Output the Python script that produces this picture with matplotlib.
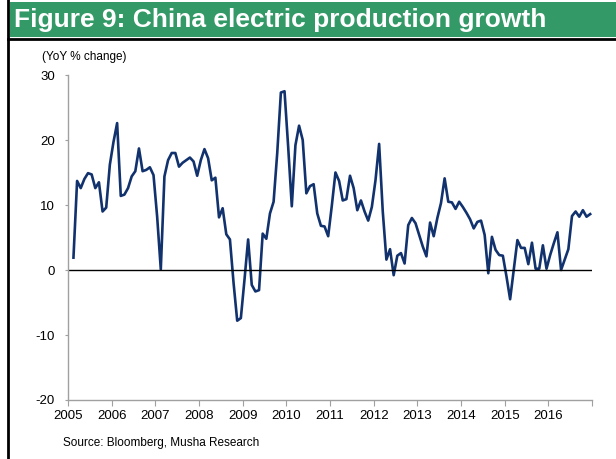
import numpy as np
import matplotlib.pyplot as plt
from matplotlib.patches import Rectangle
from matplotlib.lines import Line2D

plt.rcParams['font.family'] = ['Liberation Sans', 'DejaVu Sans']
plt.rcParams['axes.unicode_minus'] = False

# monthly YoY % change, Feb 2005 .. Dec 2016
y2005 = [1.9, 13.7, 12.6, 14.0, 14.9, 14.7, 12.6, 13.5, 9.0, 9.6, 16.2]
y2006 = [19.7, 22.6, 11.4, 11.6, 12.6, 14.4, 15.2, 18.7, 15.2, 15.4, 15.8, 14.6]
y2007 = [8.2, 0.1, 14.4, 16.9, 18.0, 18.0, 15.9, 16.5, 16.9, 17.3, 16.7, 14.5]
y2008 = [16.9, 18.6, 17.2, 13.8, 14.2, 8.1, 9.5, 5.5, 4.7, -2.0, -7.8, -7.4]
y2009 = [-1.5, 4.7, -2.3, -3.3, -3.1, 5.6, 4.8, 8.7, 10.5, 18.0, 27.3, 27.5]
y2010 = [19.0, 9.8, 19.2, 22.2, 20.0, 11.8, 12.9, 13.2, 8.7, 6.8, 6.7, 5.2]
y2011 = [9.9, 15.0, 13.7, 10.7, 10.9, 14.5, 12.6, 9.2, 10.7, 9.0, 7.6, 9.7]
y2012 = [13.8, 19.4, 9.0, 1.6, 3.2, -0.8, 2.2, 2.6, 1.0, 6.9, 8.0, 7.2]
y2013 = [5.4, 3.6, 2.1, 7.3, 5.2, 8.0, 10.3, 14.1, 10.5, 10.4, 9.4, 10.5]
y2014 = [9.7, 8.8, 7.8, 6.4, 7.4, 7.6, 5.4, -0.5, 5.1, 3.1, 2.3, 2.2]
y2015 = [-1.0, -4.5, 0.0, 4.6, 3.4, 3.4, 0.9, 4.2, 0.2, 0.2, 3.8, 0.2]
y2016 = [2.3, 4.1, 5.8, 0.0, 1.6, 3.2, 8.3, 9.0, 8.2, 9.2, 8.2, 8.6]

years = list(range(2005, 2017))
yticks = [30, 20, 10, 0, -10, -20]

values = np.array(y2005 + y2006 + y2007 + y2008 + y2009 + y2010 +
                  y2011 + y2012 + y2013 + y2014 + y2015 + y2016)
# month index starting at Feb 2005, placed mid-month
t = 2005 + (np.arange(len(values)) + 1.5) / 12

fig = plt.figure(figsize=(6.16, 4.59), dpi=100)

# title band
fig.add_artist(Rectangle((10 / 616, 1 - 37 / 459), 606 / 616, 35 / 459,
                         transform=fig.transFigure, facecolor='#339966',
                         edgecolor='none'))
fig.add_artist(Line2D([8 / 616, 8 / 616], [0, 1], transform=fig.transFigure,
                      color='black', lw=2))
fig.add_artist(Line2D([8 / 616, 1], [1 - 39 / 459, 1 - 39 / 459],
                      transform=fig.transFigure, color='black', lw=2))
fig.text(14 / 616, 1 - 20 / 459, 'Figure 9: China electric production growth',
         color='white', fontsize=19, fontweight='bold', va='center', ha='left')

ax = fig.add_axes([68 / 616, 1 - 400 / 459, 524 / 616, 325 / 459])
ax.plot(t, values, color='#12326e', lw=1.9)
ax.axhline(0, color='black', lw=1)

ax.set_xlim(2005, 2017)
ax.set_ylim(-20, 30)
ax.set_xticks(years + [2017])
ax.set_xticklabels([str(y) for y in years] + [''])
ax.set_yticks(yticks)

for s in ['top', 'right']:
    ax.spines[s].set_visible(False)
for s in ['left', 'bottom']:
    ax.spines[s].set_color('#a0a0a0')
    ax.spines[s].set_linewidth(1)
ax.tick_params(axis='x', color='#a0a0a0', length=4, pad=3.5, labelsize=9.5)
ax.tick_params(axis='y', color='#a0a0a0', length=2.5, pad=7, labelsize=9.5)

fig.text(42 / 616, 1 - 57 / 459, '(YoY % change)', fontsize=8.5, va='center')
fig.text(63 / 616, 1 - 443 / 459, 'Source: Bloomberg, Musha Research',
         fontsize=8.5, va='center')

fig.savefig('out.png', dpi=100)
